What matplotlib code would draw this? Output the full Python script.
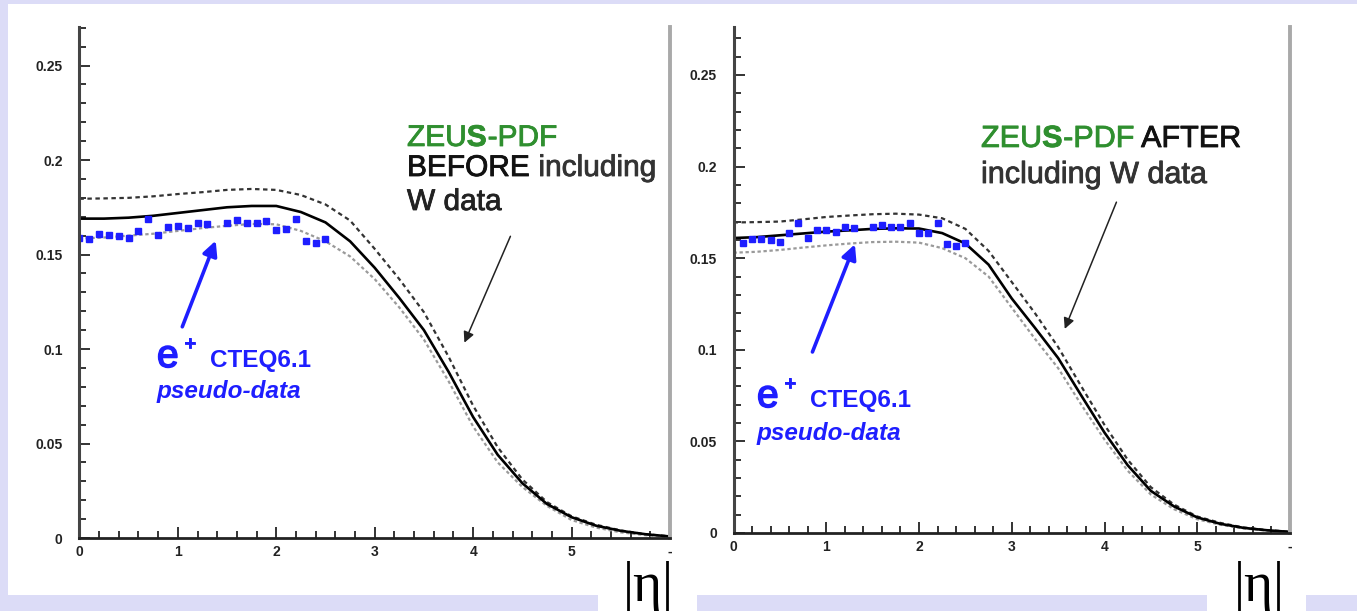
import matplotlib.pyplot as plt
import matplotlib.patches as patches
import matplotlib.patheffects as pe
from matplotlib.text import Annotation
from matplotlib.ticker import MultipleLocator, FixedLocator

plt.rcParams['font.family'] = ['Liberation Sans', 'DejaVu Sans']
plt.rcParams['mathtext.fontset'] = 'custom'
plt.rcParams['mathtext.rm'] = 'Liberation Sans'
plt.rcParams['mathtext.bf'] = 'Liberation Sans:bold'

W, H = 1357, 611

#---------------- data ----------------#
eta = [0.0, 0.25, 0.5, 0.75, 1.0, 1.25, 1.5, 1.75, 2.0, 2.25, 2.5, 2.75, 3.0,
       3.25, 3.5, 3.75, 4.0, 4.25, 4.5, 4.75, 5.0, 5.25, 5.5, 5.75, 6.0]

# left panel: ZEUS-PDF before W data
before_cen = [0.169, 0.169, 0.1695, 0.1705, 0.172, 0.1735, 0.175, 0.1757, 0.1757, 0.1725,
              0.167, 0.157, 0.143, 0.127, 0.110, 0.088, 0.064, 0.044, 0.029, 0.018,
              0.011, 0.0065, 0.0038, 0.002, 0.0008]
before_up = [0.1795, 0.1797, 0.180, 0.1808, 0.182, 0.183, 0.1842, 0.1847, 0.1842, 0.1815,
             0.1765, 0.168, 0.153, 0.137, 0.1195, 0.096, 0.070, 0.048, 0.031, 0.019,
             0.0115, 0.007, 0.004, 0.002, 0.0009]
before_lo = [0.1585, 0.159, 0.160, 0.161, 0.1625, 0.164, 0.1652, 0.1662, 0.166, 0.1625,
             0.157, 0.149, 0.137, 0.122, 0.105, 0.083, 0.059, 0.040, 0.027, 0.017,
             0.0095, 0.0055, 0.003, 0.0015, 0.0005]

# right panel: ZEUS-PDF after W data
after_cen = [0.161, 0.1615, 0.1625, 0.1635, 0.1645, 0.1652, 0.166, 0.1663, 0.1662, 0.1637,
             0.158, 0.1465, 0.128, 0.112, 0.0955, 0.075, 0.0548, 0.037, 0.023, 0.0145,
             0.0085, 0.005, 0.0028, 0.0015, 0.0006]
after_up = [0.1695, 0.1697, 0.170, 0.1712, 0.1725, 0.1733, 0.174, 0.1743, 0.1738, 0.1718,
            0.166, 0.154, 0.137, 0.120, 0.1015, 0.080, 0.059, 0.040, 0.025, 0.0155,
            0.009, 0.0055, 0.003, 0.0016, 0.0007]
after_lo = [0.153, 0.1535, 0.1545, 0.1558, 0.157, 0.158, 0.1588, 0.159, 0.1585, 0.1555,
            0.150, 0.140, 0.123, 0.106, 0.090, 0.070, 0.051, 0.034, 0.021, 0.013,
            0.0075, 0.0045, 0.0025, 0.0013, 0.0005]

# CTEQ6.1 e+ pseudo-data
pd_left_x = [0.0, 0.1, 0.2, 0.3, 0.4, 0.5, 0.6, 0.7, 0.8, 0.9, 1.0, 1.1, 1.2, 1.3,
             1.5, 1.6, 1.7, 1.8, 1.9, 2.0, 2.1, 2.2, 2.3, 2.4, 2.5]
pd_left_y = [0.1586, 0.1582, 0.1607, 0.1603, 0.160, 0.1589, 0.1624, 0.1686, 0.1603, 0.1647,
             0.1651, 0.1639, 0.1665, 0.166, 0.1668, 0.1682, 0.1668, 0.1665, 0.1677, 0.163,
             0.1633, 0.1686, 0.1573, 0.1562, 0.158]
pd_right_x = [0.1, 0.2, 0.3, 0.4, 0.5, 0.6, 0.7, 0.8, 0.9, 1.0, 1.1, 1.2, 1.3,
              1.5, 1.6, 1.7, 1.8, 1.9, 2.0, 2.1, 2.2, 2.3, 2.4, 2.5]
pd_right_y = [0.1585, 0.1603, 0.1603, 0.160, 0.159, 0.1636, 0.169, 0.1608, 0.1654, 0.1654,
              0.1645, 0.1672, 0.1663, 0.1669, 0.1681, 0.1672, 0.1672, 0.169, 0.1636, 0.1639,
              0.169, 0.1576, 0.1566, 0.1585]

xticks = [0, 1, 2, 3, 4, 5, 6]
xticklabels = ['0', '1', '2', '3', '4', '5', '-']
yticks = [0, 0.05, 0.1, 0.15, 0.2, 0.25]
yticklabels = ['0', '0.05', '0.1', '0.15', '0.2', '0.25']

BLUE = '#1e1eff'
GREEN = '#2f8f2f'
LAV = '#dcdcf7'


def fx(x):
    return x / W


def fy(y):
    return 1 - y / H


def heavy(c, w=0.6):
    # slight stroke so the text looks as heavy as the scanned slide text
    return [pe.withStroke(linewidth=w, foreground=c)]


fig = plt.figure(figsize=(W / 100, H / 100), dpi=100, facecolor=LAV)

# white slide area (behind the axes)
fig.patches.append(patches.Rectangle((fx(8), fy(595)), 1 - fx(8), fy(4) - fy(595),
                                     transform=fig.transFigure, facecolor='white',
                                     edgecolor='none', zorder=-5))
for x0 in (598, 1207):
    fig.patches.append(patches.Rectangle((fx(x0), 0), fx(99), fy(594),
                                         transform=fig.transFigure, facecolor='white',
                                         edgecolor='none', zorder=-5))


def panel(rect, ytop, cen, up, lo, px, py):
    ax = fig.add_axes(rect)
    ax.set_facecolor('none')
    ax.plot(eta, up, color='#333333', lw=1.6, ls=(0, (2, 1.6)))
    ax.plot(eta, lo, color='#9a9a9a', lw=1.6, ls=(0, (1.5, 1.2)))
    ax.plot(eta, cen, color='black', lw=1.9)
    ax.errorbar(px, py, yerr=0.0015, xerr=0.02, fmt='s', ms=4, color=BLUE,
                ecolor=BLUE, elinewidth=1.2, capsize=0)
    ax.set_xlim(0, 6)
    ax.set_ylim(0, ytop)
    ax.xaxis.set_major_locator(FixedLocator(xticks))
    ax.set_xticklabels(xticklabels)
    ax.yaxis.set_major_locator(FixedLocator(yticks))
    ax.set_yticklabels(yticklabels)
    ax.xaxis.set_minor_locator(MultipleLocator(0.2))
    ax.yaxis.set_minor_locator(MultipleLocator(0.01))
    ax.tick_params(which='both', direction='in', top=False, right=False,
                   color='#333333', width=1.4)
    ax.tick_params(which='major', length=8)
    ax.tick_params(which='minor', length=5)
    ax.tick_params(axis='y', pad=12, labelsize=10, labelcolor='#222222')
    ax.tick_params(axis='x', pad=5, labelsize=10, labelcolor='#222222')
    for lab in ax.get_xticklabels() + ax.get_yticklabels():
        lab.set_fontweight('bold')
    ax.spines['top'].set_visible(False)
    ax.spines['left'].set_color('#444444')
    ax.spines['left'].set_linewidth(2.2)
    ax.spines['bottom'].set_color('#222222')
    ax.spines['bottom'].set_linewidth(2)
    ax.spines['right'].set_color('#a9a9a9')
    ax.spines['right'].set_linewidth(2.8)
    return ax


axL = panel([fx(79.4), fy(538), fx(670) - fx(79.4), fy(27) - fy(538)], 0.2704,
            before_cen, before_up, before_lo, pd_left_x, pd_left_y)
axR = panel([fx(733.5), fy(533), fx(1290) - fx(733.5), fy(27) - fy(533)], 0.2762,
            after_cen, after_up, after_lo, pd_right_x, pd_right_y)

# arrows
axL.annotate('', xy=(1.395, 0.1587), xytext=(1.035, 0.1104),
             arrowprops=dict(arrowstyle='-|>', color=BLUE, lw=2.6, mutation_scale=22))
axR.annotate('', xy=(1.32, 0.159), xytext=(0.84, 0.0974),
             arrowprops=dict(arrowstyle='-|>', color=BLUE, lw=2.6, mutation_scale=22))
axL.annotate('', xy=(3.90, 0.102), xytext=(4.39, 0.161),
             arrowprops=dict(arrowstyle='-|>', color='#222222', lw=1.1, mutation_scale=16))
axR.annotate('', xy=(3.56, 0.110), xytext=(4.14, 0.182),
             arrowprops=dict(arrowstyle='-|>', color='#222222', lw=1.1, mutation_scale=16))


def chain(x, y, parts, size):
    # pieces of one line in different colours, each placed after the previous one
    t = fig.text(fx(x), fy(y), parts[0][0], color=parts[0][1], fontsize=size,
                 va='baseline', ha='left', path_effects=heavy(parts[0][1]))
    for s, c in parts[1:]:
        t = fig.add_artist(Annotation(s, xy=(1, 0), xycoords=t, color=c,
                                      fontsize=size, va='bottom', ha='left',
                                      path_effects=heavy(c)))
    return t


chain(407, 146, [('ZEU$\\mathbf{S}$', GREEN), ('-PDF', GREEN)], 21.5)
chain(407, 176, [('BEFORE', '#111111'), (' including', '#333333')], 21.5)
fig.text(fx(407), fy(210), 'W data', color='#222222', fontsize=21.5, va='baseline',
         path_effects=heavy('#222222'))

chain(981, 147, [('ZEU$\\mathbf{S}$', GREEN), ('-PDF', GREEN), (' AFTER', '#111111')], 22)
fig.text(fx(981), fy(183), 'including W data', color='#333333', fontsize=22,
         va='baseline', path_effects=heavy('#333333'))

# e+ CTEQ6.1 pseudo-data labels
for ex, ey, py in ((157, 367, 398), (757, 407, 440)):
    fig.text(fx(ex), fy(ey), 'e', color=BLUE, fontsize=28, va='baseline',
             path_effects=heavy(BLUE, 1.2))
    fig.text(fx(ex + 27), fy(ey - 17), '+', color=BLUE, fontsize=15, va='baseline',
             path_effects=heavy(BLUE))
    fig.text(fx(ex + 53), fy(ey), 'CTEQ6.1', color=BLUE, fontsize=17.5,
             fontweight='bold', va='baseline')
    fig.text(fx(ex), fy(py), 'pseudo-data', color=BLUE, fontsize=17.5,
             fontweight='bold', style='italic', va='baseline')

# |eta| labels
for cx in (648, 1259):
    fig.text(fx(cx), fy(561), '|η|', family=['Liberation Serif', 'DejaVu Serif'],
             fontsize=40, ha='center', va='top', color='black')

fig.savefig('out.png', dpi=100, facecolor=LAV)
